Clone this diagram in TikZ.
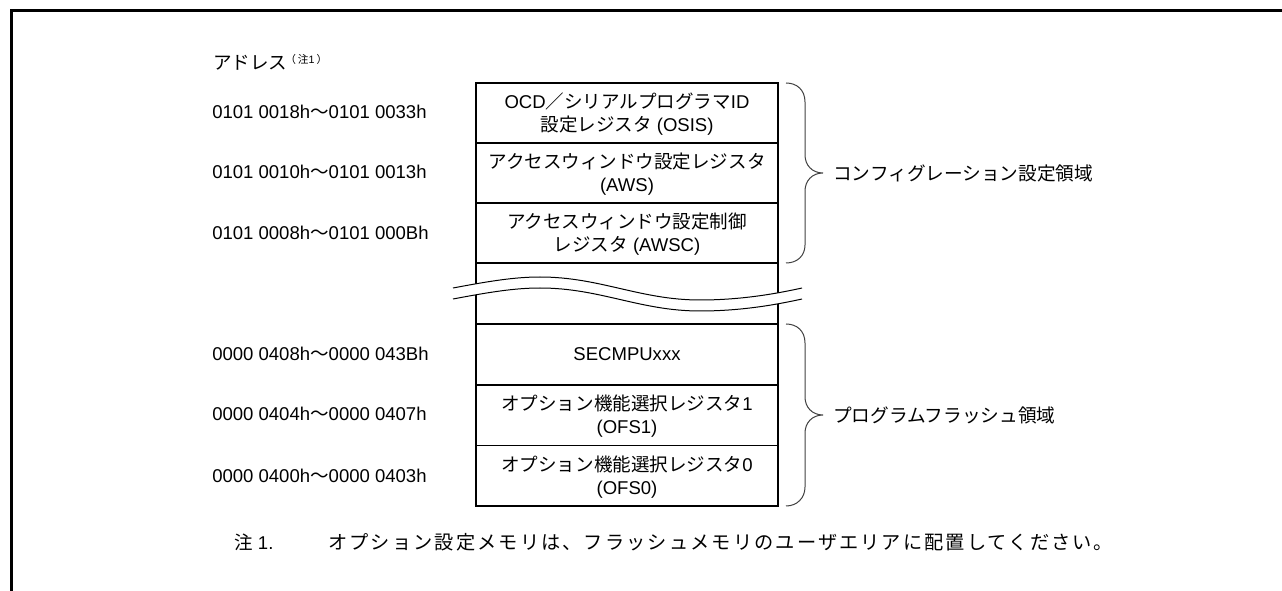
\documentclass[tikz,border=0pt]{standalone}
\usepackage{fontspec}
\setmainfont{Liberation Sans}
\newfontfamily\jpf{Noto Sans CJK JP}
\newfontfamily\jpnote[LetterSpace=11]{Noto Sans CJK JP}
\newcommand{\J}[1]{{\jpf #1}}
\newcommand{\TT}{\rule{0pt}{13.5pt}}
\newcommand{\BB}{\rule[-3pt]{0pt}{3pt}}
\tikzset{
  regbox/.style={draw=black,line width=1.2pt,fill=white,minimum width=302*0.75pt,minimum height=60.5*0.75pt,inner sep=0pt,outer sep=0pt,anchor=north west,align=center,font=\fontsize{13.9}{17.5}\selectfont},
  addr/.style={anchor=west,inner sep=0pt,font=\fontsize{13.9}{18}\selectfont},
  region/.style={anchor=west,inner sep=0pt,font=\fontsize{14}{18}\selectfont\jpf},
  bracepath/.style={draw=black!75,line width=0.75pt},
  breakline/.style={draw=black,line width=0.75pt},
  frameline/.style={draw=black,line width=2.4pt},
}
\begin{document}
\begin{tikzpicture}[x=0.75pt,y=-0.75pt]
\useasboundingbox (0,0) rectangle (1282,591);
\draw[frameline] (11.2,591) -- (11.2,10.6) -- (1282,10.6);
\node[addr,font=\fontsize{13.9}{18}\selectfont\jpf] (hd) at (213,63) {アドレス};
\node[anchor=west,inner sep=0pt,font=\fontsize{8}{10}\selectfont\jpf] (hdn) at (285,59) {（\hspace{1.5pt}注{\fontspec{Liberation Sans}1}\hspace{1.5pt}）};
\node[regbox] (r1) at (476,83) {\TT OCD\J{／シリアルプログラマ}ID\\\J{設定レジスタ} (OSIS)\BB};
\node[regbox] (r2) at (476,143) {\TT\J{アクセスウィンドウ設定レジスタ}\\(AWS)\BB};
\node[regbox] (r3) at (476,203) {\TT\J{アクセスウィンドウ設定制御}\\\J{レジスタ} (AWSC)\BB};
\node[regbox] (r4) at (476,263) {};
\node[regbox] (r5) at (476,324) {SECMPUxxx};
\node[regbox] (r6) at (476,385) {\TT\J{オプション機能選択レジスタ}1\\(OFS1)\BB};
\node[regbox] (r7) at (476,445.5) {\TT\J{オプション機能選択レジスタ}0\\(OFS0)\BB};
\node[addr] (a1) at (212,112) {0101 0018h\J{〜}0101 0033h};
\node[addr] (a2) at (212,172) {0101 0010h\J{〜}0101 0013h};
\node[addr] (a3) at (212,233) {0101 0008h\J{〜}0101 000Bh};
\node[addr] (a5) at (212,354) {0000 0408h\J{〜}0000 043Bh};
\node[addr] (a6) at (212,414) {0000 0404h\J{〜}0000 0407h};
\node[addr] (a7) at (212,476) {0000 0400h\J{〜}0000 0403h};
% break in the column
\fill[white] (453,288) .. controls (490,281) and (515,277) .. (540,277) .. controls (600,277) and (640,300) .. (700,300) .. controls (740,300) and (775,294) .. (802,288)
  -- (802,299) .. controls (775,305) and (740,311) .. (700,311) .. controls (640,311) and (600,288) .. (540,288) .. controls (515,288) and (490,292) .. (453,299) -- cycle;
\draw[breakline] (453,288) .. controls (490,281) and (515,277) .. (540,277) .. controls (600,277) and (640,300) .. (700,300) .. controls (740,300) and (775,294) .. (802,288);
\draw[breakline] (453,299) .. controls (490,292) and (515,288) .. (540,288) .. controls (600,288) and (640,311) .. (700,311) .. controls (740,311) and (775,305) .. (802,299);
% braces
\draw[bracepath] (786,83) .. controls (797,83) and (805,90) .. (805,102) -- (805,155) .. controls (805,165) and (812,173) .. (823,173) .. controls (812,173) and (805,181) .. (805,191) -- (805,245) .. controls (805,256) and (797,263) .. (786,263);
\draw[bracepath] (786,324) .. controls (797,324) and (805,331) .. (805,343) -- (805,397) .. controls (805,407) and (812,415) .. (823,415) .. controls (812,415) and (805,423) .. (805,433) -- (805,487) .. controls (805,498) and (797,506) .. (786,506);
\node[region] (l1) at (833,173) {コンフィグレーション設定領域};
\node[region] (l2) at (833,415) {プログラムフラッシュ領域};
\node[anchor=west,inner sep=0pt,font=\fontsize{13.9}{18}\selectfont] (n1) at (234,542) {\J{注} 1.};
\node[anchor=west,inner sep=0pt,font=\fontsize{14.4}{18}\selectfont\jpnote] (n2) at (328,542) {オプション設定メモリは、フラッシュメモリのユーザエリアに配置してください。};
\end{tikzpicture}
\end{document}
